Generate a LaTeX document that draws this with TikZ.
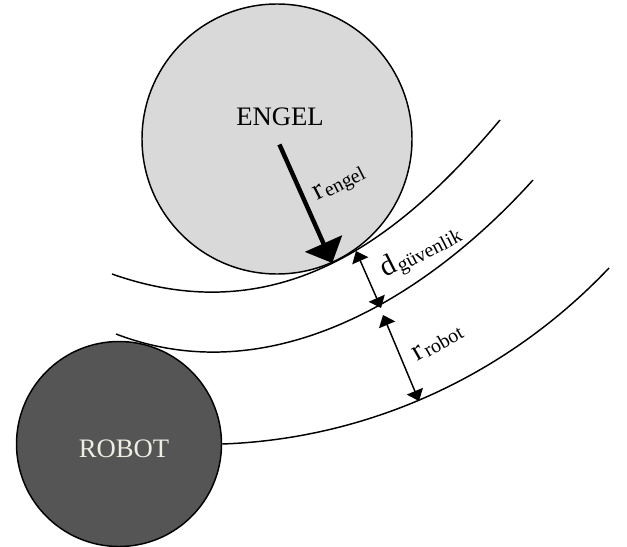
\documentclass[tikz,border=0pt]{standalone}
\usepackage{fontspec}
\setmainfont{Liberation Serif}
\usepackage{xcolor}
\usepackage{tikz}
\usetikzlibrary{arrows.meta}

\definecolor{engelgray}{RGB}{217,217,217}
\definecolor{robotgray}{RGB}{85,85,85}
\definecolor{robotwhite}{RGB}{238,238,226}

\newcommand{\dimlabel}[2]{{\fontsize{22}{22}\selectfont #1}\hspace{1pt}\raisebox{-0.3ex}{\fontsize{15}{15}\selectfont #2}}

\begin{document}
\begin{tikzpicture}[x=0.75pt,y=0.75pt,yscale=-1,xscale=1,
  disc/.style={circle,draw,line width=1.1pt,inner sep=0pt,minimum size=#1},
  track/.style={line width=1.1pt},
  bigarrow/.style={-{Triangle[length=16pt,width=30pt]},line width=3.3pt},
  dimarrow/.style={{Triangle[length=8pt,width=13pt]}-{Triangle[length=8pt,width=13pt]},line width=1.1pt},
  bigtext/.style={font=\fontsize{20}{20}\selectfont}]
\useasboundingbox (0,0) rectangle (627,546);

%Shape: Circle [engel]
\node[disc=202.5pt,fill=engelgray] (engel) at (277,139) {};
%Shape: Circle [robot]
\node[disc=153.75pt,fill=robotgray] (robot) at (119,444) {};

%Curve Lines
\draw[track] (112,274) .. controls (281.7,334.1) and (403.5,234.9) .. (500,120);
\draw[track] (116,334) .. controls (274.8,394.9) and (432.6,291.5) .. (533,180);
\draw[track] (robot.east) .. controls (368.9,438.8) and (507.4,375.1) .. (609,268);

%Straight Lines
\coordinate (dtop) at (356,251);
\coordinate (dbot) at (381,308);
\coordinate (rtop) at (383,315);
\coordinate (rbot) at (419,401);
\draw[bigarrow,shorten <=4.5pt] (engel.center) -- (engel.-66);
\draw[dimarrow] (dtop) -- (dbot);
\draw[dimarrow] (rtop) -- (rbot);

% Text Node
\node[bigtext] (engeltext) at (280,117) {ENGEL};
% Text Node
\node[bigtext,text=robotwhite] (robottext) at (124,449) {ROBOT};
% Text Node
\node[rotate=27] (rengel) at (340,185) {\dimlabel{r}{engel}};
% Text Node
\node[rotate=27] (dguv) at (421,252) {\dimlabel{d}{güvenlik}};
% Text Node
\node[rotate=30] (rrobot) at (438,343) {\dimlabel{r}{robot}};

\end{tikzpicture}
\end{document}
